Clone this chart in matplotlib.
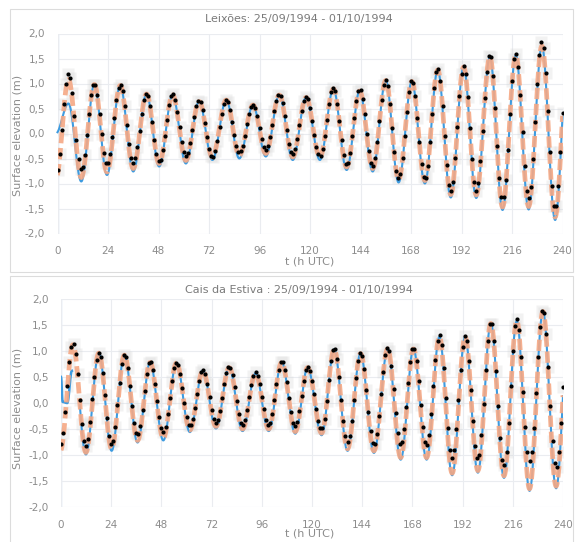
import numpy as np
import matplotlib
matplotlib.use("Agg")
import matplotlib.pyplot as plt
from matplotlib.patches import Rectangle

# ---------------- data ----------------
# times (h) of successive low / high waters, Leixões
top_t = [-0.8, 5.2, 11.3, 17.5, 23.5, 29.8, 36.0, 42.3, 48.3, 54.7, 61.0, 67.3, 73.6, 80.2,
         86.4, 92.9, 99.0, 105.4, 111.8, 118.1, 124.7, 131.1, 137.4, 143.6, 149.8, 156.0,
         162.1, 168.4, 174.6, 180.7, 186.9, 193.0, 199.0, 205.5, 211.5, 217.8, 223.9,
         230.2, 236.5, 242.6]
top_blue = [0.00, 0.60, -0.96, 0.98, -0.83, 0.96, -0.76, 0.79, -0.66, 0.77, -0.60, 0.64,
            -0.53, 0.67, -0.50, 0.57, -0.46, 0.77, -0.53, 0.72, -0.53, 0.89, -0.73, 0.85,
            -0.76, 1.06, -0.98, 1.04, -1.00, 1.27, -1.28, 1.33, -1.29, 1.53, -1.53, 1.56,
            -1.52, 1.75, -1.73, 1.62]
top_orange = [-0.92, 1.08, -0.88, 0.98, -0.77, 0.96, -0.70, 0.79, -0.60, 0.77, -0.54, 0.64,
              -0.47, 0.67, -0.44, 0.57, -0.40, 0.77, -0.47, 0.72, -0.47, 0.89, -0.67, 0.85,
              -0.70, 1.06, -0.92, 1.04, -0.94, 1.27, -1.22, 1.33, -1.23, 1.53, -1.47, 1.56,
              -1.46, 1.75, -1.67, 1.62]
top_obs = [-0.82, 1.19, -0.72, 1.00, -0.62, 0.98, -0.58, 0.80, -0.56, 0.79, -0.45, 0.66,
           -0.48, 0.68, -0.38, 0.58, -0.32, 0.78, -0.42, 0.74, -0.45, 0.92, -0.62, 0.88,
           -0.65, 1.08, -0.90, 1.06, -0.92, 1.30, -1.16, 1.36, -1.14, 1.58, -1.32, 1.60,
           -1.30, 1.84, -1.50, 1.62]

# Cais da Estiva
bot_t = [-0.3, 5.7, 11.9, 18.1, 24.2, 30.3, 36.6, 42.6, 48.9, 55.2, 61.6, 67.8, 74.1, 80.4,
         86.8, 93.0, 99.3, 105.5, 112.0, 117.9, 124.6, 130.6, 137.0, 143.2, 149.6, 156.2,
         162.4, 168.5, 174.8, 180.9, 187.0, 193.2, 199.3, 205.5, 211.8, 217.9, 224.0,
         230.4, 236.7, 242.8]
bot_blue_start_t = [0.0, 0.8, 3.0, 5.2]
bot_blue_start_h = [0.50, 0.02, 0.00, 0.62]
bot_blue = [-0.92, 1.12, -0.99, 0.96, -0.92, 0.92, -0.76, 0.78, -0.72, 0.77, -0.56, 0.62,
            -0.49, 0.68, -0.54, 0.57, -0.54, 0.78, -0.59, 0.68, -0.62, 1.03, -0.92, 0.95,
            -0.96, 1.04, -1.09, 1.04, -1.09, 1.27, -1.39, 1.27, -1.34, 1.53, -1.44, 1.58,
            -1.69, 1.76, -1.64, 1.50]
bot_orange = [-0.92, 1.12, -0.95, 0.96, -0.88, 0.92, -0.72, 0.78, -0.68, 0.77, -0.52, 0.62,
              -0.45, 0.68, -0.50, 0.57, -0.50, 0.78, -0.55, 0.68, -0.58, 1.03, -0.88, 0.95,
              -0.92, 1.04, -1.05, 1.04, -1.05, 1.27, -1.35, 1.27, -1.30, 1.53, -1.40, 1.58,
              -1.65, 1.76, -1.60, 1.50]
bot_obs = [-0.80, 1.15, -0.83, 0.97, -0.80, 0.93, -0.62, 0.80, -0.55, 0.78, -0.44, 0.64,
           -0.38, 0.70, -0.42, 0.59, -0.42, 0.80, -0.45, 0.70, -0.50, 1.06, -0.75, 0.97,
           -0.80, 1.07, -0.80, 1.06, -0.82, 1.30, -1.05, 1.29, -1.08, 1.56, -1.20, 1.62,
           -1.12, 1.79, -1.24, 1.50]

x_ticks = [0, 24, 48, 72, 96, 120, 144, 168, 192, 216, 240]
y_ticks = [-2.0, -1.5, -1.0, -0.5, 0.0, 0.5, 1.0, 1.5, 2.0]
titles = ["Leixões: 25/09/1994 - 01/10/1994", "Cais da Estiva : 25/09/1994 - 01/10/1994"]
xlabel = "t (h UTC)"
ylabel = "Surface elevation (m)"


def tide(t_ext, h_ext, t):
    """Tide curve drawn as half-cosine arcs between successive extremes."""
    t_ext = np.asarray(t_ext, float)
    h_ext = np.asarray(h_ext, float)
    i = np.clip(np.searchsorted(t_ext, t, side="right") - 1, 0, len(t_ext) - 2)
    f = (t - t_ext[i]) / (t_ext[i + 1] - t_ext[i])
    return h_ext[i] + (h_ext[i + 1] - h_ext[i]) * (1 - np.cos(np.pi * f)) / 2


W, H = 575, 542
fig = plt.figure(figsize=(W / 100, H / 100), dpi=100)
fig.patch.set_facecolor("white")

BLUE = "#3d9be0"
ORANGE = "#f5a884"
GRAY_TXT = "#8c8c8c"

def px_axes(x0, x1, ytop, ybot):
    return fig.add_axes([x0 / W, 1 - ybot / H, (x1 - x0) / W, (ybot - ytop) / H])

# chart-area frames
for (y0, y1) in [(9, 272), (276, 545)]:
    fig.add_artist(Rectangle((10 / W, 1 - y1 / H), (573 - 10) / W, (y1 - y0) / H,
                             transform=fig.transFigure, fill=False, ec="#dcdcdc", lw=0.8))

tf = np.linspace(0, 240, 4801)
th = np.arange(0, 241, 1)

panels = [
    dict(ax=px_axes(57.5, 562.5, 33.5, 233.5), t=top_t, blue=top_blue, orange=top_orange,
         obs=top_obs, title=titles[0], title_y=19, xl_y=262, yl_y=135, start=None),
    dict(ax=px_axes(61, 563, 299, 507), t=bot_t, blue=bot_blue, orange=bot_orange,
         obs=bot_obs, title=titles[1], title_y=290, xl_y=534, yl_y=408,
         start=(bot_blue_start_t, bot_blue_start_h)),
]

for p in panels:
    ax = p["ax"]
    ax.set_xlim(0, 240)
    ax.set_ylim(-2.0, 2.0)
    for s in ax.spines.values():
        s.set_visible(False)
    ax.set_xticks(x_ticks)
    ax.set_yticks(y_ticks)
    ax.set_xticklabels([str(v) for v in x_ticks])
    ax.set_yticklabels([f"{v:.1f}".replace(".", ",") for v in y_ticks])
    ax.tick_params(length=0, colors=GRAY_TXT, labelsize=7.5, pad=9)
    ax.grid(True, color="#eaecf0", lw=0.8)
    ax.set_axisbelow(True)
    ax.axvline(0, color="#cfe0f2", lw=1.0, zorder=0.5)

    # blue model line
    if p["start"] is None:
        yb = tide(p["t"], p["blue"], tf)
        ax.plot(tf, yb, color=BLUE, lw=1.5, zorder=2, clip_on=False)
    else:
        st, sh = p["start"]
        m = tf <= st[-1]
        ax.plot(tf[m], tide(st, sh, tf[m]), color=BLUE, lw=1.8, zorder=2)
        m2 = tf >= 9.0
        ax.plot(tf[m2], tide(p["t"], p["blue"], tf[m2]), color=BLUE, lw=1.5, zorder=2)

    # orange dashed line
    yo = tide(p["t"], p["orange"], tf)
    ax.plot(tf, yo, color=ORANGE, lw=3.4, ls=(0, (2.4, 1.0)), alpha=0.9, zorder=3)

    # observations with grey halo
    yobs = tide(p["t"], p["obs"], th.astype(float))
    ax.plot(th, yobs, ls="none", marker="s", ms=8, color="#d6d6d6", alpha=0.3,
            mec="none", zorder=1.5)
    ax.plot(th, yobs, ls="none", marker="o", ms=3.0, color="black", mec="none", zorder=4)

    fig.text(0.52, 1 - p["title_y"] / H, p["title"], ha="center", va="center",
             color="#7a7a7a", fontsize=8)
    fig.text(310 / W, 1 - p["xl_y"] / H, xlabel, ha="center", va="center",
             color=GRAY_TXT, fontsize=8)
    fig.text(18 / W, 1 - p["yl_y"] / H, ylabel, ha="center", va="center",
             rotation=90, color=GRAY_TXT, fontsize=8)

fig.savefig("out.png", dpi=100, facecolor="white")
